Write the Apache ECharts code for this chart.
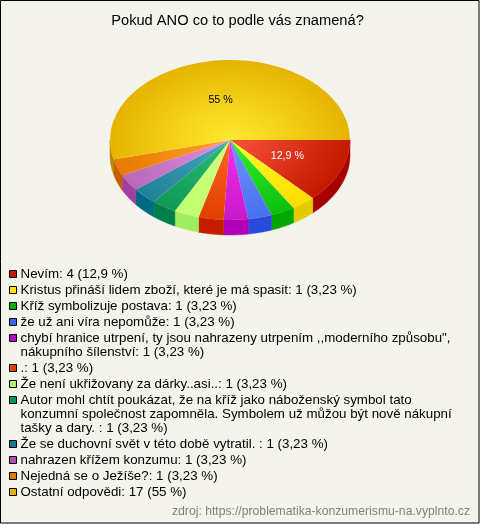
<!DOCTYPE html>
<html><head><meta charset="utf-8">
<style>html,body{margin:0;padding:0;background:#f5f4ec}#c{width:480px;height:524px}</style>
<script src="https://cdn.jsdelivr.net/npm/echarts@6/dist/echarts.min.js"></script>
</head><body><div id="c"></div>
<script>
const titleText = 'Pokud ANO co to podle vás znamená?';
const sourceText = 'zdroj: https://problematika-konzumerismu-na.vyplnto.cz';
const categories = [
  'Nevím',
  'Kristus přináší lidem zboží, které je má spasit',
  'Kříž symbolizuje postava',
  'že už ani víra nepomůže',
  'chybí hranice utrpení, ty jsou nahrazeny utrpením ,,moderního způsobu",\nnákupního šílenství',
  '.',
  'Že není ukřižovany za dárky..asi..',
  'Autor mohl chtít poukázat, že na kříž jako náboženský symbol tato\nkonzumní společnost zapomněla. Symbolem už můžou být nově nákupní\ntašky a dary. ',
  'Že se duchovní svět v této době vytratil. ',
  'nahrazen křížem konzumu',
  'Nejedná se o Ježíše?',
  'Ostatní odpovědi'
];
const values = [4, 1, 1, 1, 1, 1, 1, 1, 1, 1, 1, 17];
const percents = ['12,9', '3,23', '3,23', '3,23', '3,23', '3,23', '3,23', '3,23', '3,23', '3,23', '3,23', '55'];
const sliceLabels = ['12,9 %', '', '', '', '', '', '', '', '', '', '', '55 %'];
const labelColors = ['#ffffff', '', '', '', '', '', '', '', '', '', '', '#000000'];
const legendColors = ['#c81a00','#ffe600','#00b400','#3c64f0','#b400c8','#e04000','#b4f064','#0a9650','#147896','#b450b4','#e67800','#e6b400'];
const centerColors = ['#f8533a','#ffff28','#30f030','#6c94ff','#f030f0','#ff6424','#d0ff80','#28c070','#48a8c0','#e48ce4','#ffa428','#ffea30'];
const rimColors = ['#c41800','#ffdc00','#0cc00c','#4a70f0','#c818c8','#e04000','#c0ff70','#109858','#208098','#b868b8','#e87800','#e6b400'];
const sideColors = ['#a80000','#e0cc00','#00a800','#2a4adc','#b000b8','#c41e00','#a0ee60','#008048','#006880','#a040a0','#c85c00','#b48c00'];

const CX = 230, CY = 140, RX = 120, RY = 80, DEPTH = 15;
const total = values.reduce((a, b) => a + b, 0);
const DEG = Math.PI / 180;
// The source's perspective widens the lower-left slices slightly.
function warp(t) {
  const knee = 162.6 * DEG, push = 3.4 * DEG;
  if (t <= 90 * DEG) return t;
  if (t <= knee) return t + push * (t - 90 * DEG) / (knee - 90 * DEG);
  return t + push * (2 * Math.PI - t) / (2 * Math.PI - knee);
}
function span(i) {
  let s = 0;
  for (let k = 0; k < i; k++) s += values[k];
  return [s / total * 2 * Math.PI, (s + values[i]) / total * 2 * Math.PI];
}
function renderSide(params, api) {
  const i = params.dataIndex, sp = span(i);
  const a0 = Math.max(warp(sp[0]), 0), a1 = Math.min(warp(sp[1]), Math.PI);
  if (a1 <= a0) return null;
  const top = [], bottom = [];
  for (let n = 0; n <= 24; n++) {
    const t = a0 + (a1 - a0) * n / 24;
    const x = CX + RX * Math.cos(t), y = CY + RY * Math.sin(t);
    top.push([x, y]);
    bottom.unshift([x, y + DEPTH]);
  }
  return {type: 'polygon', shape: {points: top.concat(bottom)}, style: {fill: sideColors[i], stroke: sideColors[i], lineWidth: 0.5}};
}
function renderTop(params, api) {
  const i = params.dataIndex, sp = span(i);
  const fill = new echarts.graphic.RadialGradient(CX, CY, RX, [
    {offset: 0, color: centerColors[i]}, {offset: 1, color: rimColors[i]}], true);
  return {
    type: 'sector',
    originX: CX, originY: CY, scaleY: RY / RX,
    shape: {cx: CX, cy: CY, r0: 0, r: RX, startAngle: warp(sp[0]), endAngle: warp(sp[1]), clockwise: true},
    style: {fill: fill, stroke: null}
  };
}
function renderLabel(params, api) {
  const i = params.dataIndex, sp = span(i);
  if (!sliceLabels[i]) return null;
  const m = (sp[0] + sp[1]) / 2;
  return {
    type: 'text',
    style: {x: CX + RX * 0.52 * Math.cos(m), y: CY + RY * 0.51 * Math.sin(m), text: sliceLabels[i],
      fill: labelColors[i], font: '10.67px "Liberation Sans"', align: 'center', verticalAlign: 'middle'}
  };
}
const legendEls = [];
let y = 274;
categories.forEach((name, i) => {
  const text = name + ': ' + values[i] + ' (' + percents[i] + ' %)';
  legendEls.push({type: 'rect', shape: {x: 9.5, y: y - 3.5, width: 7, height: 7},
    style: {fill: legendColors[i], stroke: '#000', lineWidth: 1}});
  const lines = text.split('\n');
  lines.forEach((ln, k) => {
    legendEls.push({type: 'text',
      style: {x: 20.5, y: y + k * 14, text: ln, fill: '#000', font: '13.33px "Liberation Sans"', verticalAlign: 'middle'}});
  });
  y += 16 + (lines.length - 1) * 14;
});
const chart = echarts.init(document.getElementById('c'), null, {renderer: 'canvas'});
chart.setOption({
  animation: false,
  backgroundColor: '#f5f4ec',
  title: {text: titleText, left: 232.5, top: 8, textAlign: 'center',
    textStyle: {fontFamily: 'Liberation Sans', fontSize: 14.67, fontWeight: 'normal', color: '#000'}},
  graphic: [
    {type: 'rect', silent: true, shape: {x: 0.5, y: 0.5, width: 478.5, height: 522.5},
      style: {fill: 'transparent', stroke: '#000', lineWidth: 1}},
    ...legendEls,
    {type: 'text', style: {x: 470, y: 511.5, text: sourceText, fill: '#808080', font: '12.2px "Liberation Sans"', align: 'right', verticalAlign: 'middle'}}
  ],
  series: [
    {type: 'custom', coordinateSystem: 'none', silent: true, z: 1, data: values.map(v => [v]), renderItem: renderSide},
    {type: 'custom', coordinateSystem: 'none', silent: true, z: 2, data: values.map(v => [v]), renderItem: renderTop},
    {type: 'custom', coordinateSystem: 'none', silent: true, z: 3, data: values.map(v => [v]), renderItem: renderLabel}
  ]
});
</script></body></html>
